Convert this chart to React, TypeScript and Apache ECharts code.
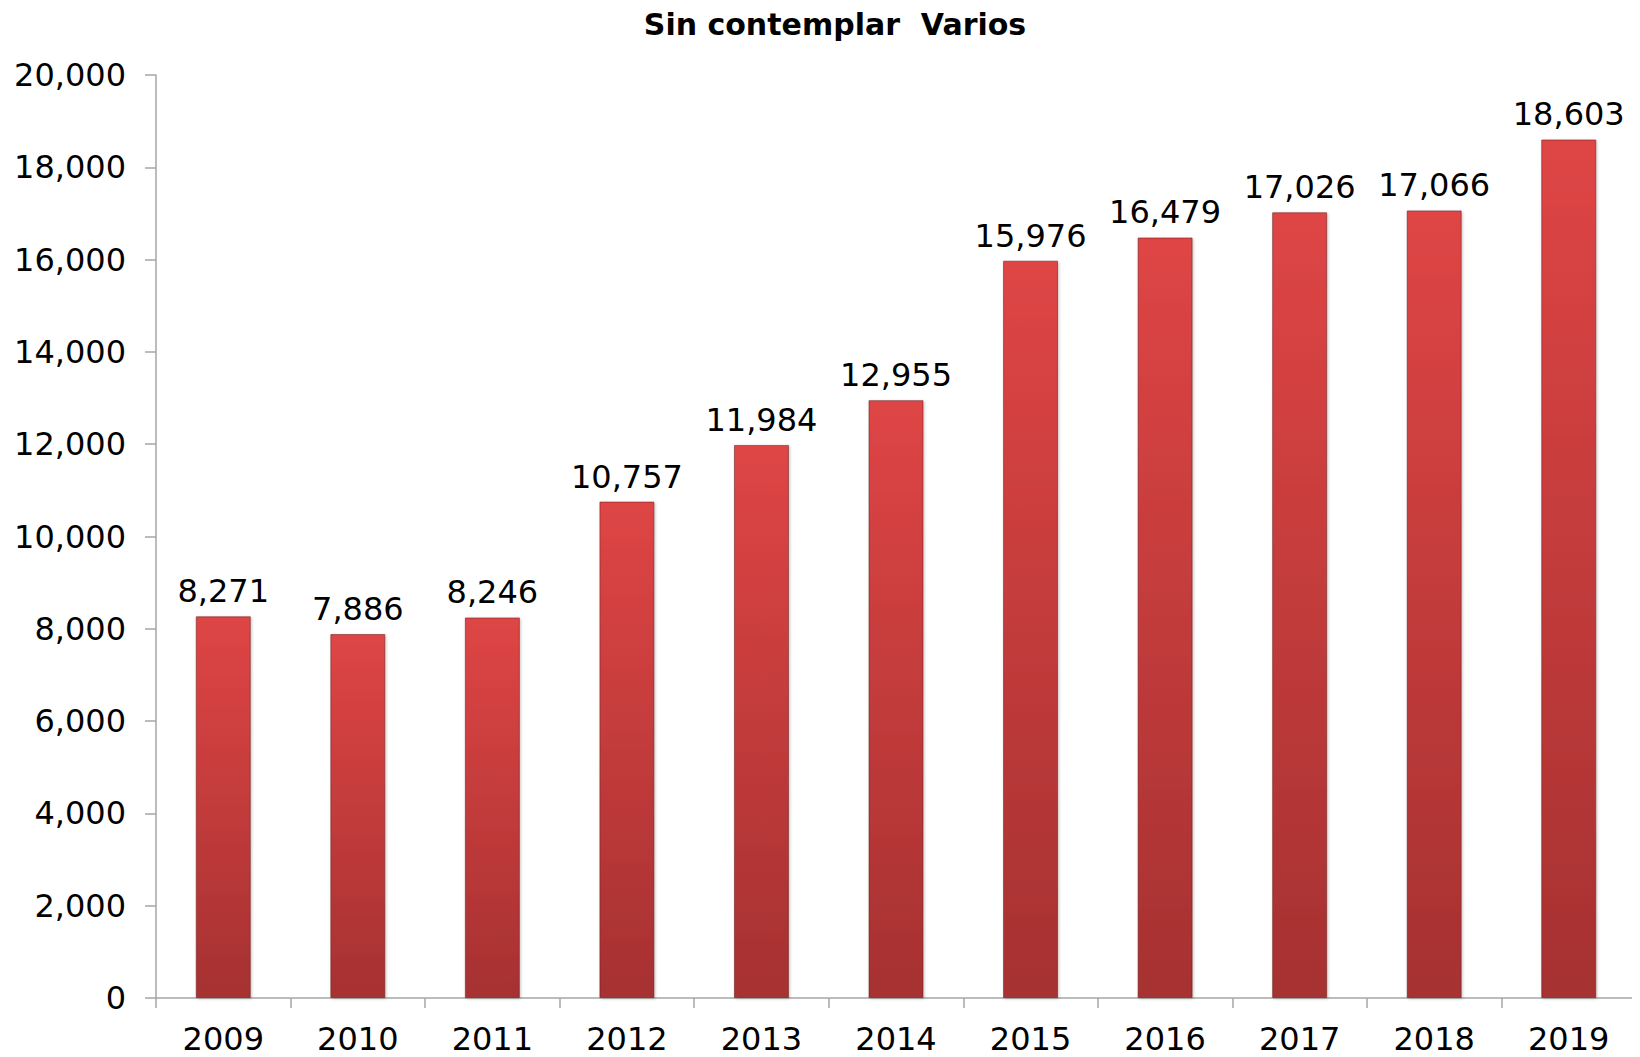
import React, { useEffect, useRef } from "react";
import * as echarts from "echarts";

const title = "Sin contemplar  Varios";
const years = ["2009", "2010", "2011", "2012", "2013", "2014", "2015", "2016", "2017", "2018", "2019"];
const values = [8271, 7886, 8246, 10757, 11984, 12955, 15976, 16479, 17026, 17066, 18603];
const yMin = 0;
const yMax = 20000;
const yStep = 2000;

const FONT = "'DejaVu Sans', Verdana, sans-serif";

export default function App() {
  const ref = useRef<HTMLDivElement>(null);
  useEffect(() => {
    if (!ref.current) return;
    const chart = echarts.init(ref.current, null, { renderer: "svg" });
    chart.setOption({
      animation: false,
      backgroundColor: "#ffffff",
      title: {
        text: title,
        left: 830,
        top: 4,
        textAlign: "center",
        textStyle: { fontFamily: FONT, fontWeight: "bold", fontSize: 30, color: "#000" },
      },
      grid: { left: 156, right: 4, top: 75, bottom: 59 },
      xAxis: {
        type: "category",
        data: years,
        axisLine: { lineStyle: { color: "#a6a6a6", width: 1.5 } },
        axisTick: { show: true, length: 10, alignWithLabel: false, lineStyle: { color: "#a6a6a6", width: 1.5 } },
        axisLabel: { fontFamily: FONT, fontSize: 32, color: "#000", margin: 25 },
      },
      yAxis: {
        type: "value",
        min: yMin,
        max: yMax,
        interval: yStep,
        axisLine: { show: true, lineStyle: { color: "#a6a6a6", width: 1.5 } },
        axisTick: { show: true, length: 11, lineStyle: { color: "#a6a6a6", width: 1.5 } },
        splitLine: { show: false },
        axisLabel: {
          fontFamily: FONT,
          fontSize: 32,
          color: "#000",
          margin: 30,
          formatter: (v: number) => v.toLocaleString("en-US"),
        },
      },
      series: [
        {
          type: "bar",
          data: values,
          barWidth: 55,
          itemStyle: {
            color: new echarts.graphic.LinearGradient(0, 0, 0, 1, [
              { offset: 0, color: "#df4545" },
              { offset: 1, color: "#a63131" },
            ]),
            borderColor: "rgba(110,30,30,0.55)",
            borderWidth: 1,
            shadowColor: "rgba(0,0,0,0.25)",
            shadowBlur: 3,
            shadowOffsetX: 1,
            shadowOffsetY: 1,
          },
          label: {
            show: true,
            position: "top",
            distance: 9,
            fontFamily: FONT,
            fontSize: 32,
            color: "#000",
            formatter: (p: any) => Number(p.value).toLocaleString("en-US"),
          },
        },
      ],
    });
    return () => chart.dispose();
  }, []);
  return <div ref={ref} style={{ width: 1640, height: 1057, marginLeft: -8, marginTop: -8 }} />;
}
